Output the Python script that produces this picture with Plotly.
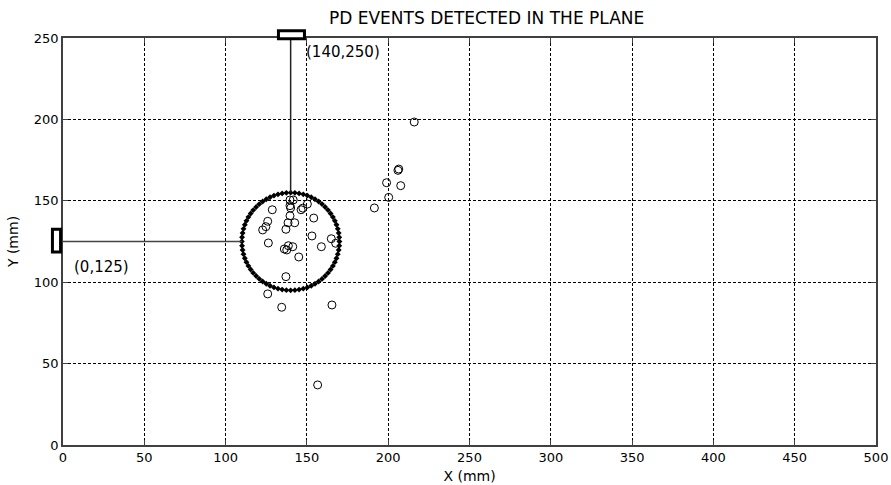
import numpy as np
import plotly.graph_objects as go

# ---- data ----
event_x = [216, 206, 206.5, 199, 207.7, 200.3, 191.5,
           128.7, 139.6, 141.6, 139.6, 140, 150.3, 146.4, 147.5, 139.6, 154.2,
           125.9, 138.4, 142.5, 124.8, 122.8, 137.1, 153.1, 126.3, 165, 167.7,
           158.9, 138.6, 136.1, 137.6, 141.3, 145, 137.1, 125.9, 134.5, 165.4, 156.6]
event_y = [198.4, 168.7, 169.5, 161.1, 159.3, 152.1, 145.6,
           144.5, 150.5, 150.5, 147, 145.6, 148, 144.5, 145.5, 140.8, 139.4,
           137.4, 136.5, 136.5, 134.1, 132.1, 132.5, 128.4, 124.1, 126.7, 123.9,
           121.8, 122.4, 120.4, 119.8, 121.8, 115.5, 103.4, 92.8, 84.6, 86, 36.9]

circle_center = (140, 125)
circle_radius = 30
n_circle_pts = 72

sensor_top = (140, 250)
sensor_left = (0, 125)

x_ticks = [0, 50, 100, 150, 200, 250, 300, 350, 400, 450, 500]
y_ticks = [0, 50, 100, 150, 200, 250]
x_range = [0, 500]
y_range = [0, 250]

title_text = "PD EVENTS DETECTED IN THE PLANE"
x_label = "X (mm)"
y_label = "Y (mm)"

# ---- figure ----
FONT = "DejaVu Sans"
fig = go.Figure()

theta = np.linspace(0, 2 * np.pi, n_circle_pts, endpoint=False)
cx = circle_center[0] + circle_radius * np.cos(theta)
cy = circle_center[1] + circle_radius * np.sin(theta)
fig.add_trace(go.Scatter(x=cx, y=cy, mode="markers",
                         marker=dict(symbol="diamond", size=4.5, color="black"),
                         showlegend=False, hoverinfo="skip"))

fig.add_trace(go.Scatter(x=event_x, y=event_y, mode="markers",
                         marker=dict(symbol="circle-open", size=8,
                                     color="black", line=dict(width=1)),
                         showlegend=False, cliponaxis=False))


def dx(v):
    return (v - x_range[0]) / (x_range[1] - x_range[0])


def dy(v):
    return (v - y_range[0]) / (y_range[1] - y_range[0])


# connecting lines
fig.add_shape(type="line", xref="x", yref="y",
              x0=sensor_top[0], x1=sensor_top[0],
              y0=circle_center[1] + circle_radius, y1=sensor_top[1] - 0.5,
              line=dict(color="#222", width=1.5), layer="above")
fig.add_shape(type="line", xref="x", yref="y",
              x0=sensor_left[0] - 1.5, x1=circle_center[0] - circle_radius,
              y0=sensor_left[1], y1=sensor_left[1],
              line=dict(color="#444", width=1.5), layer="above")

# sensors (drawn outside plot area; use domain refs so they are not clipped)
fig.add_shape(type="rect", xref="x domain", yref="y domain",
              x0=dx(sensor_top[0] - 7.5), x1=dx(sensor_top[0] + 8.5),
              y0=dy(sensor_top[1] - 0.5), y1=dy(sensor_top[1] + 4.5),
              line=dict(color="black", width=3), fillcolor="white", layer="above")
fig.add_shape(type="rect", xref="x domain", yref="y domain",
              x0=dx(sensor_left[0] - 6.5), x1=dx(sensor_left[0] - 1.5),
              y0=dy(sensor_left[1] - 6.5), y1=dy(sensor_left[1] + 7.5),
              line=dict(color="black", width=3), fillcolor="white", layer="above")

fig.add_annotation(x=sensor_top[0] + 8.5, y=sensor_top[1] - 8.5, xref="x", yref="y",
                   text="(%d,%d)" % sensor_top, showarrow=False,
                   xanchor="left", yanchor="middle",
                   font=dict(family=FONT, size=15, color="black"))
fig.add_annotation(x=sensor_left[0] + 5.5, y=sensor_left[1] - 15.5, xref="x", yref="y",
                   text="(%d,%d)" % sensor_left, showarrow=False,
                   xanchor="left", yanchor="middle",
                   font=dict(family=FONT, size=15, color="black"))

fig.add_annotation(x=0.521, y=1, xref="paper", yref="paper", yshift=20,
                   text=title_text, showarrow=False, xanchor="center", yanchor="middle",
                   font=dict(family=FONT, size=17, color="black"))

axis_common = dict(showgrid=True, gridcolor="black", griddash="3px,2px", gridwidth=1,
                   showline=True, linecolor="#404040", linewidth=1.5, mirror="ticks",
                   ticks="inside", ticklen=5, tickcolor="#404040", zeroline=False,
                   automargin=False,
                   tickfont=dict(family=FONT, size=13, color="black"))

fig.update_xaxes(range=x_range, tickvals=x_ticks, ticktext=[str(v) for v in x_ticks],
                 title=dict(text=x_label, font=dict(family=FONT, size=14, color="black"),
                            standoff=7),
                 **axis_common)
fig.update_yaxes(range=y_range, tickvals=y_ticks, ticktext=[str(v) for v in y_ticks],
                 title=dict(text=y_label, font=dict(family=FONT, size=14, color="black"),
                            standoff=12),
                 **axis_common)

fig.update_layout(width=891, height=485,
                  margin=dict(l=63, r=15, t=38, b=40),
                  plot_bgcolor="white", paper_bgcolor="white",
                  showlegend=False)

fig.write_html("out.html", config={"displayModeBar": False},
               post_script="document.body.style.margin='0';document.body.style.overflow='hidden';")
